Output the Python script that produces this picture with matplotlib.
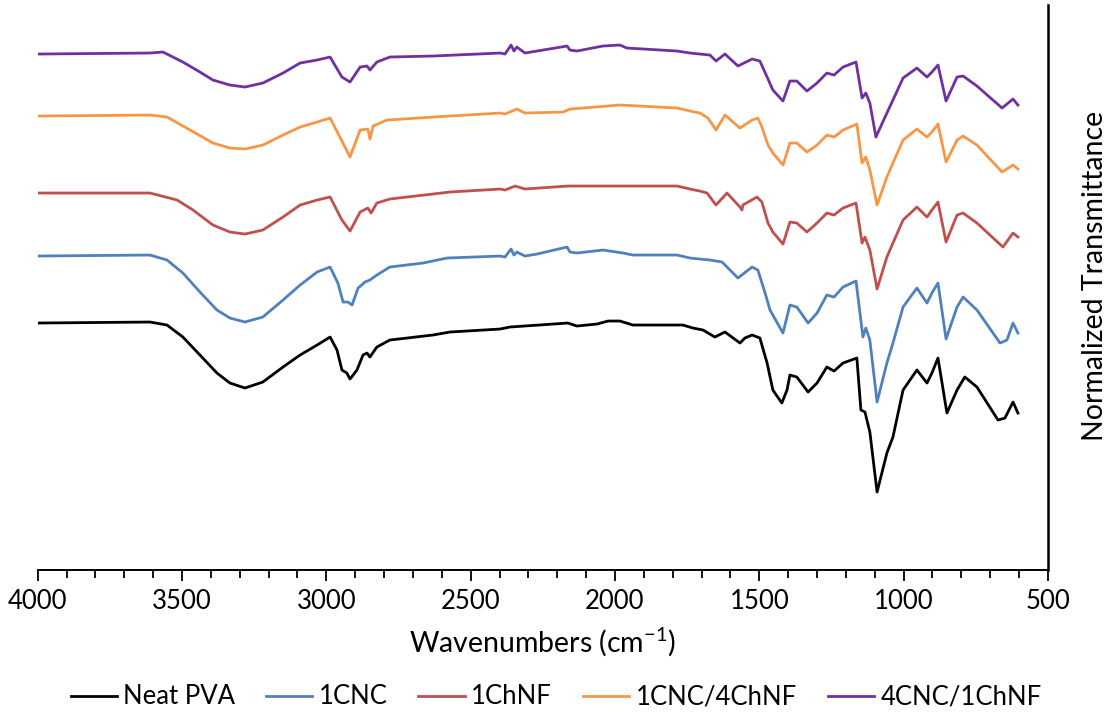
import matplotlib
matplotlib.use("Agg")
import matplotlib.pyplot as plt
from matplotlib.ticker import MultipleLocator

plt.rcParams['font.family'] = ['Lato', 'DejaVu Sans']
plt.rcParams['mathtext.fontset'] = 'custom'
plt.rcParams['mathtext.rm'] = 'Lato'
plt.rcParams['mathtext.it'] = 'Lato:italic'

# Spectra as drawn (offset stacked), wavenumbers in cm-1, transmittance in a.u.
wn_pva = [4000, 3611, 3552, 3497, 3438, 3379, 3334, 3282, 3220, 3150, 3091, 3032, 2987, 2963,
          2946, 2929, 2918, 2894, 2873, 2859, 2849, 2825, 2780, 2631, 2572, 2398, 2364, 2163,
          2132, 2062, 2024, 1983, 1938, 1765, 1730, 1695, 1654, 1619, 1567, 1550, 1525, 1498,
          1473, 1453, 1422, 1404, 1394, 1370, 1331, 1300, 1266, 1241, 1210, 1162, 1148, 1134,
          1117, 1092, 1058, 1037, 1002, 954, 919, 902, 881, 850, 815, 788, 746, 673, 649, 621, 604]
t_pva = [247, 248, 245, 233, 215, 197, 187, 182, 188, 203, 215, 225, 233, 220,
         200, 197, 191, 200, 215, 217, 213, 223, 230, 235, 238, 241, 243, 247,
         244, 246, 249, 249, 245, 245, 242, 240, 233, 238, 227, 232, 235, 232,
         207, 180, 167, 180, 195, 193, 178, 187, 203, 199, 207, 212, 160, 158,
         138, 78, 117, 133, 180, 200, 187, 197, 212, 157, 180, 193, 183, 150, 152, 168, 157]

wn_cnc = [4000, 3611, 3552, 3497, 3438, 3379, 3334, 3282, 3220, 3150, 3091, 3032, 2987, 2960,
          2942, 2925, 2911, 2890, 2866, 2849, 2825, 2780, 2665, 2582, 2398, 2381, 2360, 2350,
          2340, 2312, 2270, 2166, 2156, 2132, 2042, 1972, 1938, 1785, 1740, 1671, 1629, 1574,
          1525, 1505, 1480, 1463, 1418, 1394, 1370, 1331, 1300, 1266, 1241, 1210, 1165, 1141,
          1131, 1117, 1092, 1058, 1037, 1002, 954, 919, 902, 881, 853, 815, 794, 746, 666, 642,
          621, 604]
t_cnc = [314, 315, 310, 297, 278, 260, 252, 248, 253, 270, 285, 298, 303, 287,
         268, 268, 265, 282, 288, 290, 295, 303, 307, 312, 314, 313, 321, 315,
         318, 314, 316, 323, 318, 317, 320, 317, 315, 315, 312, 310, 308, 292,
         303, 300, 277, 260, 237, 265, 263, 247, 257, 275, 273, 283, 289, 233,
         242, 230, 168, 207, 227, 263, 282, 267, 277, 287, 231, 263, 273, 260, 227, 230,
         247, 237]

wn_chnf = [4000, 3611, 3517, 3462, 3393, 3334, 3282, 3220, 3150, 3091, 3032, 2987, 2946, 2918,
           2883, 2856, 2845, 2825, 2780, 2572, 2398, 2381, 2346, 2312, 2163, 1983, 1785, 1740,
           1706, 1681, 1650, 1612, 1567, 1560, 1557, 1508, 1491, 1470, 1453, 1418, 1394, 1370,
           1335, 1300, 1266, 1241, 1210, 1165, 1144, 1134, 1117, 1092, 1058, 1037, 1002, 954,
           919, 902, 881, 853, 815, 794, 746, 656, 621, 604]
t_chnf = [377, 377, 370, 360, 345, 338, 336, 340, 353, 365, 370, 373, 350, 339,
          358, 362, 357, 367, 371, 378, 381, 380, 384, 381, 384, 384, 384, 381,
          379, 377, 365, 377, 363, 360, 365, 373, 368, 347, 338, 326, 348, 347,
          338, 347, 357, 355, 362, 367, 327, 333, 320, 281, 313, 327, 350, 363,
          353, 360, 368, 328, 355, 357, 347, 323, 337, 333]

wn_1cnc4chnf = [4000, 3611, 3552, 3472, 3393, 3334, 3282, 3220, 3150, 3091, 3032, 2987, 2946, 2918,
                2883, 2856, 2849, 2838, 2790, 2572, 2398, 2381, 2340, 2312, 2180, 2156, 1983, 1785,
                1740, 1706, 1678, 1650, 1619, 1567, 1525, 1505, 1491, 1470, 1453, 1418, 1394, 1370,
                1335, 1300, 1266, 1241, 1210, 1162, 1144, 1131, 1117, 1092, 1058, 1037, 1002, 954,
                919, 902, 881, 853, 815, 794, 746, 659, 621, 604]
t_1cnc4chnf = [454, 455, 453, 440, 427, 422, 421, 425, 435, 443, 448, 452, 429, 413,
               440, 441, 431, 444, 450, 454, 457, 456, 461, 457, 458, 461, 465, 462,
               459, 457, 452, 440, 455, 442, 450, 452, 443, 425, 417, 405, 427, 427,
               418, 425, 435, 433, 440, 446, 407, 413, 400, 365, 393, 407, 430, 441,
               433, 438, 446, 408, 430, 434, 425, 398, 405, 401]

wn_4cnc1chnf = [4000, 3611, 3566, 3497, 3438, 3393, 3334, 3282, 3220, 3150, 3091, 3032, 2987, 2946,
                2918, 2883, 2859, 2849, 2825, 2780, 2631, 2398, 2381, 2360, 2350, 2340, 2312, 2270,
                2166, 2156, 2132, 2042, 1983, 1959, 1785, 1740, 1706, 1671, 1650, 1619, 1574, 1525,
                1498, 1473, 1453, 1418, 1394, 1370, 1335, 1300, 1266, 1241, 1210, 1165, 1144, 1131,
                1117, 1096, 1058, 1037, 1002, 954, 919, 902, 881, 853, 815, 794, 746, 659, 621, 604]
t_4cnc1chnf = [516, 517, 518, 508, 498, 490, 485, 483, 487, 497, 507, 510, 513, 493,
               488, 503, 504, 500, 508, 513, 514, 517, 516, 525, 519, 523, 517, 519,
               524, 520, 519, 524, 525, 522, 519, 517, 516, 515, 509, 516, 504, 511,
               509, 493, 480, 469, 489, 489, 479, 487, 497, 495, 503, 508, 472, 477,
               467, 433, 457, 470, 492, 502, 493, 498, 505, 469, 493, 494, 484, 462, 471, 465]

labels = ['Neat PVA', '1CNC', '1ChNF', '1CNC/4ChNF', '4CNC/1ChNF']
colors = ['#000000', '#4F81BD', '#C0504D', '#F79646', '#7030A0']
series = [(wn_pva, t_pva), (wn_cnc, t_cnc), (wn_chnf, t_chnf),
          (wn_1cnc4chnf, t_1cnc4chnf), (wn_4cnc1chnf, t_4cnc1chnf)]

fig = plt.figure(figsize=(11.12, 7.19), dpi=100)
ax = fig.add_axes([0.0339, 0.2072, 0.9085, 0.7858])

for (wn, t), lab, col in zip(series, labels, colors):
    ax.plot(wn, t, color=col, lw=2.0, label=lab, solid_joinstyle='round')

ax.set_xlim(4000, 500)
ax.set_ylim(0, 565)
ax.xaxis.set_major_locator(MultipleLocator(500))
ax.xaxis.set_minor_locator(MultipleLocator(100))
ax.tick_params(axis='x', which='major', direction='out', length=8, width=1.3,
               labelsize=18.5, pad=6)
ax.tick_params(axis='x', which='minor', direction='out', length=6, width=1.3)
ax.set_yticks([])

ax.spines['top'].set_visible(False)
ax.spines['left'].set_visible(False)
ax.spines['bottom'].set_linewidth(1.4)
ax.spines['right'].set_linewidth(1.8)

ax.set_xlabel('Wavenumbers (cm$^{-1}$)', fontsize=20.5, labelpad=8)
ax.yaxis.set_label_position('right')
ax.set_ylabel('Normalized Transmittance', fontsize=20.5, rotation=90)
ax.yaxis.set_label_coords(1.0337, 0.52)

fig.legend(loc='center', bbox_to_anchor=(0.5, 1 - 697 / 719), ncol=5, frameon=False,
           fontsize=18.5, handlelength=1.8, handletextpad=0.25, columnspacing=1.2)

fig.savefig('out.png', dpi=100)
